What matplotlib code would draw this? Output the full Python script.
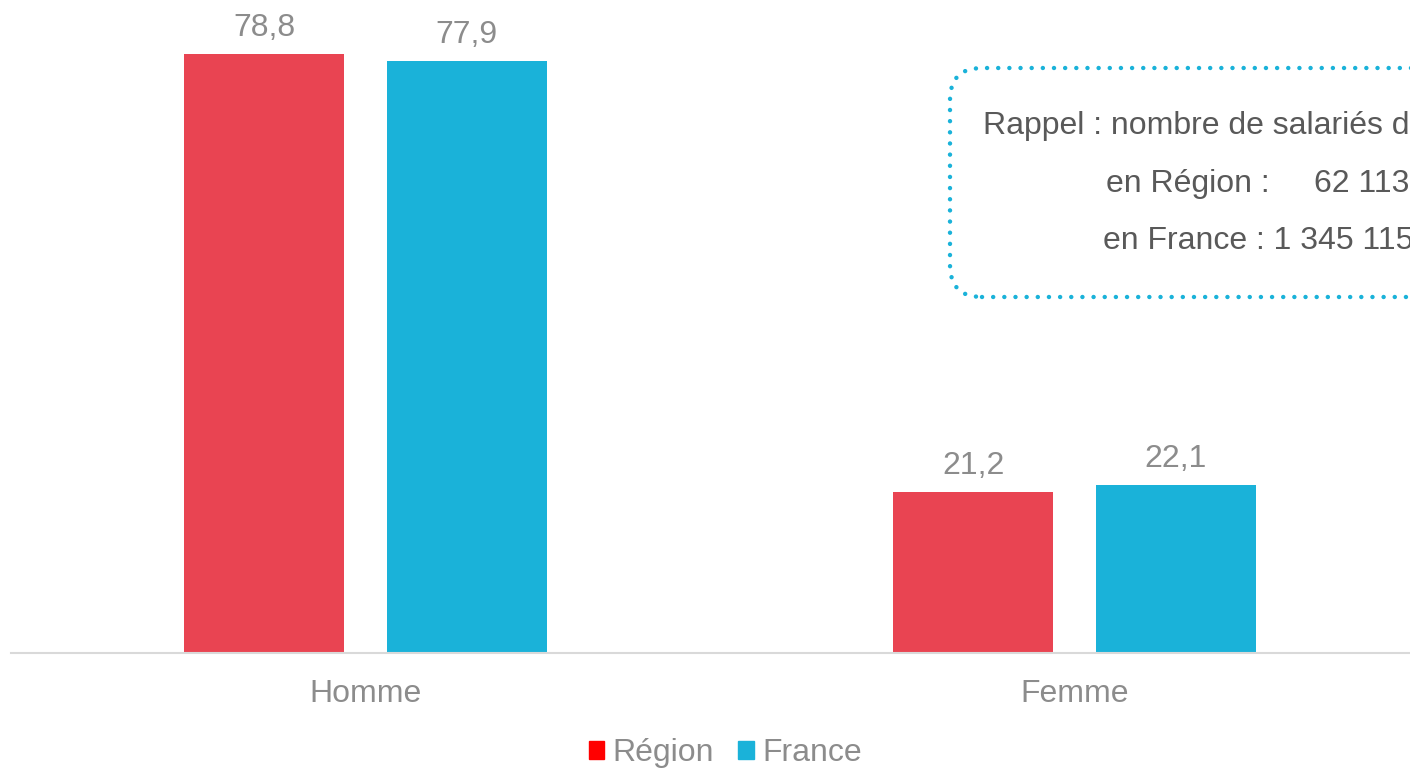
import matplotlib.pyplot as plt
from matplotlib.patches import FancyBboxPatch, Patch

categories = ["Homme", "Femme"]
region = [78.8, 21.2]
france = [77.9, 22.1]
series_names = ["Région", "France"]
box_lines = ["Rappel : nombre de salariés de la branche",
             "en Région :     62 113",
             "en France : 1 345 115"]

RED = "#E94452"
BLUE = "#1AB2D9"
GREY = "#8C8C8C"

plt.rcParams['font.family'] = ['Liberation Sans', 'DejaVu Sans']

fig = plt.figure(figsize=(14.10, 7.69), dpi=100)
ax = fig.add_axes([11 / 1410, 116 / 769, 1418 / 1410, 646 / 769])

x = list(range(len(categories)))
w = 0.226
off = 0.1428
b1 = ax.bar([i - off for i in x], region, width=w, color=RED)
b2 = ax.bar([i + off for i in x], france, width=w, color=BLUE)

for bars, vals in ((b1, region), (b2, france)):
    for r, v in zip(bars, vals):
        ax.annotate(f"{v:.1f}".replace(".", ","),
                    (r.get_x() + r.get_width() / 2, v),
                    xytext=(0, 8), textcoords="offset points",
                    ha="center", va="bottom", fontsize=23, color=GREY)

ax.set_xlim(-0.5, 1.5)
ax.set_ylim(0, 85)
ax.set_xticks(x)
ax.set_xticklabels(categories, fontsize=23, color=GREY)
ax.tick_params(axis="x", length=0, pad=19)
ax.set_yticks([])
for s in ("top", "right", "left"):
    ax.spines[s].set_visible(False)
ax.spines["bottom"].set_color("#D9D9D9")
ax.spines["bottom"].set_linewidth(1.5)

# legend (the red square is pure red in the original)
handles = [Patch(color="#FF0000"), Patch(color=BLUE)]
fig.legend(handles, series_names, loc="center",
           bbox_to_anchor=(725 / 1410, 1 - 753 / 769), ncol=2, frameon=False,
           fontsize=23, labelcolor=GREY, handlelength=0.5, handleheight=0.5,
           handletextpad=0.25, columnspacing=0.75)

# dotted annotation box, runs past the right edge like the original
box = FancyBboxPatch((9.50, 4.72), 5.0, 2.29,
                     boxstyle="round,pad=0,rounding_size=0.32",
                     transform=fig.dpi_scale_trans, fill=False,
                     edgecolor=BLUE, linewidth=3.2, linestyle=(0, (0.01, 2.5)),
                     capstyle="round")
fig.patches.append(box)
box.set_figure(fig)

text_pos = [(983, 126), (1106, 184), (1103, 241)]
for (px, py), line in zip(text_pos, box_lines):
    fig.text(px / 1410, 1 - py / 769, line, fontsize=23, color="#595959",
             ha="left", va="center")

fig.savefig("out.png", dpi=100)
